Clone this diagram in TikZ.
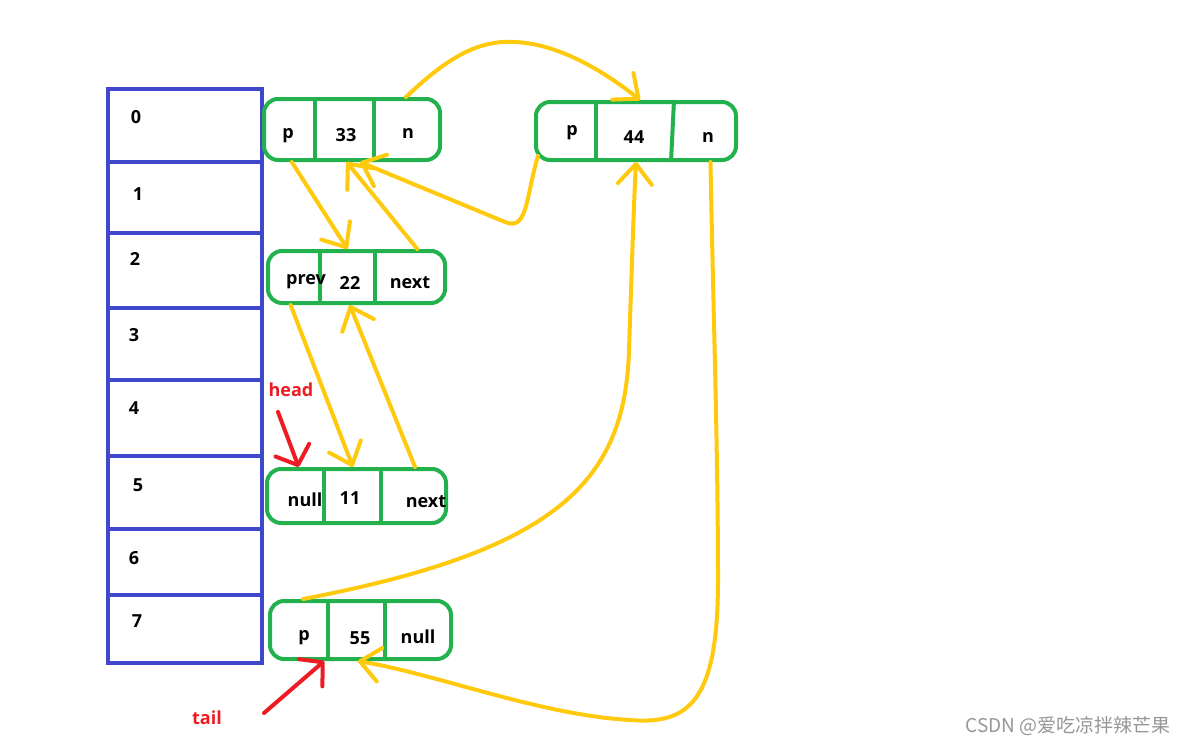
\documentclass[tikz,border=0pt]{standalone}
\usepackage{fontspec}
\setmainfont{Open Sans}[BoldFont={Open Sans Bold}]
\newfontfamily\cjk{Noto Sans CJK SC}
\usetikzlibrary{arrows.meta,calc}
\definecolor{pblue}{HTML}{3F48CC}
\definecolor{pgreen}{HTML}{22B14C}
\definecolor{pyellow}{HTML}{FFC90E}
\definecolor{pred}{HTML}{ED1C24}
\definecolor{wmgray}{RGB}{150,150,150}
\begin{document}
\begin{tikzpicture}[x=1pt,y=-1pt,
  bline/.style={draw=pblue,line width=4pt},
  gnode/.style={draw=pgreen,line width=4pt,rounded corners=14pt,inner sep=0pt},
  gline/.style={draw=pgreen,line width=4pt},
  yarrow/.style={draw=pyellow,line width=4pt,line cap=round,line join=round,-{Straight Barb[length=20pt,width=34pt,round]}},
  rarrow/.style={draw=pred,line width=4pt,line cap=round,-{Straight Barb[length=16pt,width=36pt,round]}},
  lbl/.style={font=\fontsize{18}{21}\selectfont\bfseries,inner sep=0pt},
  rlbl/.style={lbl,text=pred},
]
\useasboundingbox (0,0) rectangle (1188,744);

% array
\foreach \t/\b in {89/162,162/233,233/308,308/380,380/456,456/529,529/595,595/663}
  \draw[bline] (108,\t) rectangle (262,\b);
\node[lbl] (i0) at (136,117) {0};
\node[lbl] (i1) at (138,194) {1};
\node[lbl] (i2) at (135,259) {2};
\node[lbl] (i3) at (134,335) {3};
\node[lbl] (i4) at (134,408) {4};
\node[lbl] (i5) at (138,485) {5};
\node[lbl] (i6) at (134,558) {6};
\node[lbl] (i7) at (137,621) {7};

% list nodes
\node[gnode,minimum width=176pt,minimum height=61pt] (n33) at (352,129.5) {};
\draw[gline] ($(n33.north west)+(53,0)$) -- ($(n33.south west)+(53,0)$);
\draw[gline] ($(n33.north west)+(112,0)$) -- ($(n33.south west)+(112,0)$);
\node[lbl] (p33) at (288,136) {p};
\node[lbl] (v33) at (346,135) {33};
\node[lbl] (x33) at (408,133) {n};

\node[gnode,minimum width=200pt,minimum height=58pt] (n44) at (636,131) {};
\draw[gline] ($(n44.north west)+(62,0)$) -- ($(n44.south west)+(62,0)$);
\draw[gline] ($(n44.north west)+(140,0)$) -- ($(n44.south west)+(137,0)$);
\node[lbl] (p44) at (572,133) {p};
\node[lbl] (v44) at (634,137) {44};
\node[lbl] (x44) at (708,137) {n};

\node[gnode,minimum width=177pt,minimum height=52pt] (n22) at (356.5,277) {};
\draw[gline] ($(n22.north west)+(54,0)$) -- ($(n22.south west)+(54,0)$);
\draw[gline] ($(n22.north west)+(109,0)$) -- ($(n22.south west)+(109,0)$);
\node[lbl] (p22) at (306,282) {prev};
\node[lbl] (v22) at (350,283) {22};
\node[lbl] (x22) at (410,283) {next};

\node[gnode,minimum width=179pt,minimum height=54pt] (n11) at (356.5,496) {};
\draw[gline] ($(n11.north west)+(59,0)$) -- ($(n11.south west)+(59,0)$);
\draw[gline] ($(n11.north west)+(116,0)$) -- ($(n11.south west)+(116,0)$);
\node[lbl] (p11) at (305,500) {null};
\node[lbl] (v11) at (350,498) {11};
\node[lbl] (x11) at (426,502) {next};

\node[gnode,minimum width=181pt,minimum height=58pt] (n55) at (360.5,630) {};
\draw[gline] ($(n55.north west)+(60,0)$) -- ($(n55.south west)+(60,0)$);
\draw[gline] ($(n55.north west)+(117,0)$) -- ($(n55.south west)+(117,0)$);
\node[lbl] (p55) at (304,638) {p};
\node[lbl] (v55) at (360,638) {55};
\node[lbl] (x55) at (418,637) {null};

% yellow connectors
\draw[yarrow] ($(n33.north west)!0.80!(n33.north east)$) .. controls (450,55) and (480,40) .. (515,42) .. controls (565,44) and (615,80) .. ($(n44.north west)!0.52!(n44.north east)$);
\draw[yarrow] ($(n44.south west)+(4,-6)$) .. controls (526,195) and (528,232) .. (505,222) -- ($(n33.south west)!0.545!(n33.south east)$);
\draw[yarrow] ($(n22.north west)!0.836!(n22.north east)$) -- ($(n33.south west)!0.47!(n33.south east)$);
\draw[yarrow] ($(n33.south west)!0.165!(n33.south east)$) -- ($(n22.north west)!0.45!(n22.north east)$);
\draw[yarrow] ($(n22.south west)!0.136!(n22.south east)$) -- ($(n11.north west)!0.48!(n11.north east)$);
\draw[yarrow] ($(n11.north west)!0.82!(n11.north east)$) -- ($(n22.south west)!0.463!(n22.south east)$);
\draw[yarrow] ($(n55.north west)!0.19!(n55.north east)$) .. controls (560,550) and (625,480) .. (629,350) .. controls (632,260) and (634,200) .. ($(n44.south west)!0.5!(n44.south east)$);
\draw[yarrow] ($(n44.south west)!0.865!(n44.south east)$) .. controls (713,300) and (718,450) .. (718,580) .. controls (718,700) and (690,725) .. (630,720) .. controls (540,715) and (440,675) .. ($(n55.south west)!0.486!(n55.south east)$);

% head / tail
\node[rlbl] (head) at (291,390) {head};
\node[rlbl] (tail) at (207,718) {tail};
\coordinate (hs) at (278,412);
\coordinate (ts) at (264,713);
\draw[rarrow] (hs) -- ($(n11.north west)!0.184!(n11.north east)$);
\draw[rarrow] (ts) -- ($(n55.south west)!0.304!(n55.south east)$);

% watermark
\node[font=\cjk\fontsize{19}{21}\selectfont,text=wmgray,inner sep=0pt] (wm) at (1068,726) {CSDN @爱吃凉拌辣芒果};
\end{tikzpicture}
\end{document}
